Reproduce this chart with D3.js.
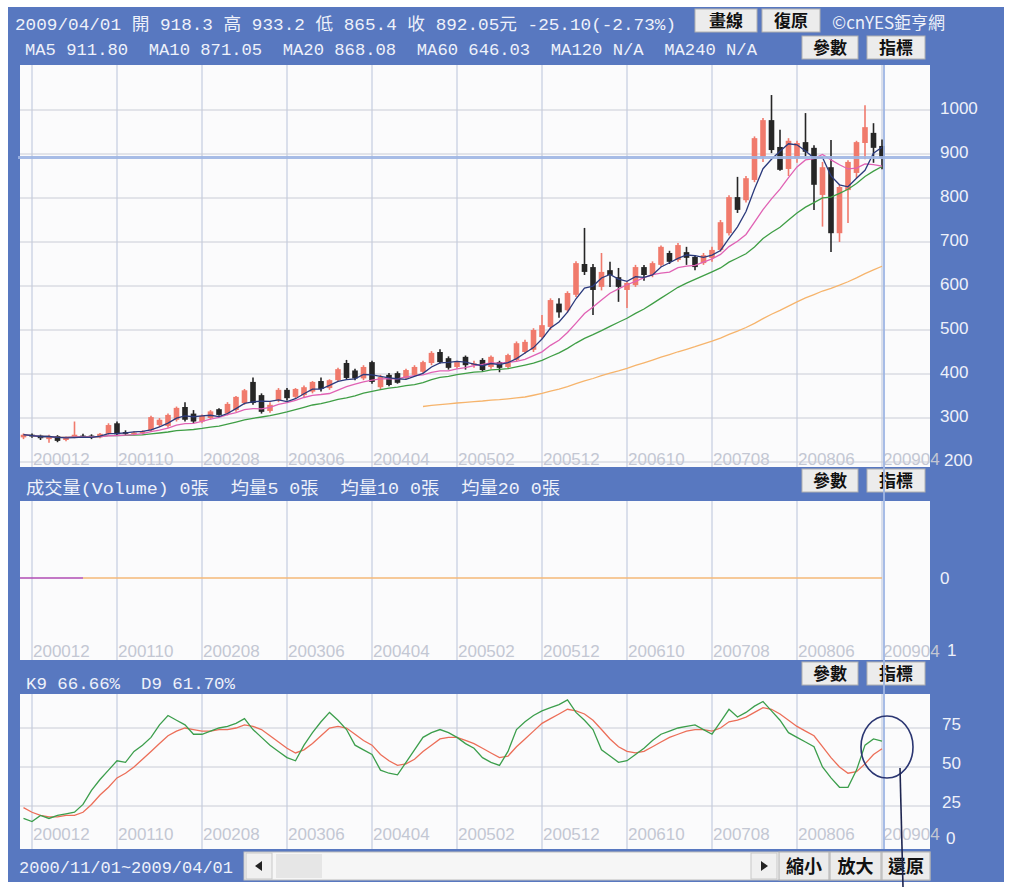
<!DOCTYPE html>
<html>
<head>
<meta charset="utf-8">
<script src="https://cdn.jsdelivr.net/npm/d3@7"></script>
<style>
  body { margin: 0; background: #fff; }
  svg { display: block; }
  text { white-space: pre; }
</style>
</head>
<body>
<script>
// monthly candles, 2000/11 .. 2009/04
const open = [256,262,260,252,259,250,256,260,260,256,
  264,288,268,264,266,272,284,282,296,325,
  310,292,300,320,310,318,334,382,352,316,
  340,364,348,352,360,384,368,386,425,408,
  390,427,370,398,402,391,398,405,425,450,
  436,416,439,420,432,416,427,416,432,450,
  455,484,507,560,545,580,650,643,598,636,
  620,591,602,643,625,648,675,659,677,666,
  652,664,682,720,802,795,841,893,977,916,
  866,890,927,914,807,870,720,818,857,925,
  948,918.3];
const high = [265,265,262,262,261,258,292,264,263,266,
  288,292,272,270,272,305,300,310,326,336,
  318,308,318,322,336,350,366,392,356,336,
  368,368,368,374,384,392,388,414,432,412,
  420,430,398,402,406,412,420,430,452,456,
  440,430,442,430,436,442,430,446,474,478,
  504,534,572,572,588,656,732,650,675,655,
  641,610,648,648,656,692,680,698,689,670,
  675,689,750,806,848,850,940,982,1034,955,
  936,930,993,920,882,932,830,886,930,1011,
  970,933.2];
const low = [252,255,250,244,245,247,254,255,252,254,
  262,260,260,261,262,270,280,278,292,292,
  288,288,296,305,306,314,330,330,310,312,
  336,340,344,348,356,360,364,382,388,386,
  386,378,365,372,378,388,395,402,420,424,
  410,412,410,414,405,412,404,412,428,446,
  450,480,500,528,540,575,625,534,590,598,
  564,550,598,612,620,644,650,655,648,636,
  648,655,678,715,766,790,836,882,902,862,
  850,880,895,773,735,677,700,743,845,888,
  880,865.4];
const close = [262,258,254,258,248,256,262,258,255,264,
  284,263,264,267,270,302,296,307,323,296,
  292,305,315,307,332,348,363,334,314,330,
  364,345,366,370,382,366,386,411,391,390,
  416,382,393,375,380,409,416,427,448,427,
  414,427,420,424,409,439,414,443,470,473,
  500,511,568,540,584,652,632,591,632,625,
  598,607,643,625,652,689,655,693,664,643,
  670,682,745,802,773,845,936,977,909,864,
  930,925,905,830,870,720,825,882,927,961,
  914,892.05];

// KD (9)
const kLine = [17,15,19,17,19,20,21,26,35,42,
  48,54,53,60,64,69,77,83,80,77,
  71,71,73,75,76,78,81,74,69,64,
  60,56,54,64,72,79,85,80,74,64,
  61,58,48,46,45,53,61,69,72,74,
  72,69,65,62,56,53,51,60,74,79,
  83,86,88,90,93,85,80,74,61,57,
  53,54,58,62,67,71,73,75,76,77,
  74,71,79,87,82,85,89,92,86,80,
  72,69,66,63,50,43,37,37,48,64,
  68,66.66];
const dLine = [24,21,19,18,18,19,19,21,26,32,
  37,43,46,50,55,60,65,70,73,75,
  74,73,73,74,74,75,77,76,74,70,
  66,62,59,61,65,70,75,76,75,71,
  67,64,58,54,51,52,55,60,64,68,
  69,69,67,65,62,59,56,57,63,68,
  73,78,81,84,87,86,84,80,74,68,
  63,60,59,60,63,66,69,71,73,74,
  74,73,75,79,80,82,85,88,87,84,
  80,76,73,70,63,56,50,46,47,52,
  58,61.70];

const monthTicks = ["200012","200110","200208","200306","200404","200502","200512","200610","200708","200806","200904"];
const priceTicks = [200,300,400,500,600,700,800,900,1000];
const kdTicks = [25,50,75];
const volTicks = [0,1];

const headLine1 = "2009/04/01 開 918.3 高 933.2 低 865.4 收 892.05元 -25.10(-2.73%)";
const headLine2 = "MA5 911.80  MA10 871.05  MA20 868.08  MA60 646.03  MA120 N/A  MA240 N/A";
const volLine = "成交量(Volume) 0張  均量5 0張  均量10 0張  均量20 0張";
const kdLine = "K9 66.66%  D9 61.70%";
const rangeLine = "2000/11/01~2009/04/01";

const BLUE = "#5878c0", LABEL = "#eef1fa", GRIDC = "#c9ccd6", VGRID = "#b9c3da";
const monoFont = "'Liberation Mono','Noto Sans CJK TC',monospace";
const cjkFont = "'Noto Sans CJK TC','Noto Sans CJK SC',sans-serif";
const numFont = "'Liberation Sans','Noto Sans',sans-serif";

const idx = s => (+s.slice(0, 4) - 2000) * 12 + (+s.slice(4)) - 11;
const ma = n => close.map((c, i) => d3.mean(close.slice(Math.max(0, i - n + 1), i + 1)));
const ma60Start = 47;

const svg = d3.select("body").append("svg").attr("width", 1014).attr("height", 887);
svg.append("rect").attr("x", 8).attr("y", 7).attr("width", 996).attr("height", 875).attr("fill", BLUE);

const L = 20, R = 930;
const x = d3.scaleLinear().domain([0, close.length - 1]).range([23.5, 882]);
const yP = d3.scaleLinear().domain([200, 1000]).range([462, 110]);
const yV = d3.scaleLinear().domain([0, 1]).range([578, 650]);
const yK = d3.scaleLinear().domain([0, 100]).range([845, 689]);

function button(x0, y0, w, h, label, size) {
  const g = svg.append("g");
  g.append("rect").attr("x", x0).attr("y", y0).attr("width", w).attr("height", h)
    .attr("fill", "#ececec").attr("stroke", "#b0b0b0").attr("stroke-width", 1);
  g.append("text").attr("x", x0 + w / 2).attr("y", y0 + h / 2 + 1).attr("dy", "0.35em")
    .attr("text-anchor", "middle").attr("font-family", cjkFont).attr("font-weight", "bold")
    .attr("font-size", size || 17).attr("fill", "#111").text(label);
}

function panel(top, bottom, labelBase) {
  svg.append("rect").attr("x", L).attr("y", top).attr("width", R - L).attr("height", bottom - top)
    .attr("fill", "#fbfbfc");
  svg.append("g").selectAll("line").data(monthTicks).join("line")
    .attr("x1", d => x(idx(d))).attr("x2", d => x(idx(d)))
    .attr("y1", top).attr("y2", bottom).attr("stroke", VGRID).attr("stroke-width", 1);
  svg.append("g").selectAll("text").data(monthTicks).join("text")
    .attr("x", d => x(idx(d)) + 1).attr("y", labelBase)
    .attr("font-family", numFont).attr("font-size", 17).attr("fill", "#c3c7d3").text(d => d);
}

// header
svg.append("text").attr("x", 15).attr("y", 30).attr("textLength", 661).attr("lengthAdjust", "spacingAndGlyphs")
  .attr("font-family", monoFont).attr("font-size", 17).attr("fill", LABEL).text(headLine1);
svg.append("text").attr("x", 25).attr("y", 55).attr("textLength", 732).attr("lengthAdjust", "spacingAndGlyphs")
  .attr("font-family", monoFont).attr("font-size", 16).attr("fill", LABEL).text(headLine2);
button(695, 9, 62, 23, "畫線");
button(762, 9, 58, 23, "復原");
svg.append("text").attr("x", 832).attr("y", 29).attr("font-family", cjkFont).attr("font-size", 17)
  .attr("fill", LABEL).text("©cnYES鉅亨網");
button(802, 36, 56, 23, "參數");
button(867, 36, 58, 23, "指標");

// ---------- price panel ----------
panel(65, 467, 465);
svg.append("g").selectAll("line").data(priceTicks).join("line")
  .attr("x1", L).attr("x2", R).attr("y1", d => yP(d)).attr("y2", d => yP(d))
  .attr("stroke", GRIDC).attr("stroke-width", 1);
svg.append("g").selectAll("text").data(priceTicks).join("text")
  .attr("x", d => d === 200 ? 944 : 940).attr("y", d => yP(d) - 2).attr("dy", "0.35em")
  .attr("font-family", numFont).attr("font-size", 17).attr("fill", LABEL).text(d => d);

const maSeries = [
  { v: ma(20), c: "#3f9e45", from: 0 },
  { v: ma(10), c: "#e062b4", from: 0 },
  { v: ma(5), c: "#2b3a7c", from: 0 },
  { v: ma(60), c: "#f6b46c", from: ma60Start }
];
const cw = 5.6;
const candles = svg.append("g").selectAll("g").data(close).join("g");
candles.append("line")
  .attr("x1", (d, i) => x(i)).attr("x2", (d, i) => x(i))
  .attr("y1", (d, i) => yP(high[i])).attr("y2", (d, i) => yP(low[i]))
  .attr("stroke", (d, i) => d >= open[i] ? "#f07a6c" : "#262626").attr("stroke-width", 1.6);
candles.append("rect")
  .attr("x", (d, i) => x(i) - cw / 2).attr("width", cw)
  .attr("y", (d, i) => yP(Math.max(d, open[i])))
  .attr("height", (d, i) => Math.max(1.5, Math.abs(yP(d) - yP(open[i]))))
  .attr("fill", (d, i) => d >= open[i] ? "#f07a6c" : "#262626");

maSeries.forEach(s => {
  svg.append("path")
    .datum(s.v.map((v, i) => [i, v]).filter(p => p[0] >= s.from))
    .attr("fill", "none").attr("stroke", s.c).attr("stroke-width", 1.3)
    .attr("d", d3.line().x(p => x(p[0])).y(p => yP(p[1])));
});

// cursor line at last close
const last = close.length - 1;
svg.append("line").attr("x1", 18).attr("x2", R).attr("y1", yP(close[last])).attr("y2", yP(close[last]))
  .attr("stroke", "#9fb6e4").attr("stroke-width", 3).attr("opacity", 0.9);

// band 2
svg.append("text").attr("x", 26).attr("y", 494).attr("textLength", 534).attr("lengthAdjust", "spacingAndGlyphs")
  .attr("font-family", monoFont).attr("font-size", 17).attr("fill", LABEL).text(volLine);
button(802, 469, 56, 23, "參數");
button(867, 469, 58, 23, "指標");

// ---------- volume panel ----------
panel(501, 660, 657);
const vol = close.map(() => 0);
svg.append("path").datum(vol.slice(0, 8).map((v, i) => [i, v]))
  .attr("fill", "none").attr("stroke", "#b04cb4").attr("stroke-width", 1.5)
  .attr("d", d3.line().x(p => p[0] === 0 ? L : x(p[0])).y(p => yV(p[1])));
svg.append("path").datum(vol.map((v, i) => [i, v]).filter(p => p[0] >= 7))
  .attr("fill", "none").attr("stroke", "#f4b878").attr("stroke-width", 1.5)
  .attr("d", d3.line().x(p => x(p[0])).y(p => yV(p[1])));
svg.append("g").selectAll("text").data(volTicks).join("text")
  .attr("x", d => d === 0 ? 940 : 947).attr("y", d => yV(d)).attr("dy", "0.35em")
  .attr("font-family", numFont).attr("font-size", 17).attr("fill", LABEL).text(d => d);

// band 3
svg.append("text").attr("x", 26).attr("y", 689).attr("textLength", 209).attr("lengthAdjust", "spacingAndGlyphs")
  .attr("font-family", monoFont).attr("font-size", 17).attr("fill", LABEL).text(kdLine);
button(802, 662, 56, 23, "參數");
button(867, 662, 58, 23, "指標");

// ---------- KD panel ----------
panel(694, 849, 840);
svg.append("g").selectAll("line").data(kdTicks).join("line")
  .attr("x1", L).attr("x2", R).attr("y1", d => yK(d)).attr("y2", d => yK(d))
  .attr("stroke", GRIDC).attr("stroke-width", 1);
svg.append("g").selectAll("text").data(kdTicks.concat([0])).join("text")
  .attr("x", d => d === 0 ? 946 : 942).attr("y", d => d === 0 ? 838 : yK(d) - 4).attr("dy", "0.35em")
  .attr("font-family", numFont).attr("font-size", 17).attr("fill", LABEL).text(d => d);
const kdPath = d3.line().x((v, i) => x(i)).y(v => yK(v));
svg.append("path").datum(dLine).attr("fill", "none").attr("stroke", "#ec6e58").attr("stroke-width", 1.3).attr("d", kdPath);
svg.append("path").datum(kLine).attr("fill", "none").attr("stroke", "#3c9e4c").attr("stroke-width", 1.3).attr("d", kdPath);

// vertical cursor over all panels
svg.append("line").attr("x1", x(last) + 2).attr("x2", x(last) + 2).attr("y1", 65).attr("y2", 849)
  .attr("stroke", "#9fb6e4").attr("stroke-width", 2).attr("opacity", 0.9);

// ---------- bottom bar ----------
svg.append("text").attr("x", 19).attr("y", 873).attr("textLength", 214).attr("lengthAdjust", "spacingAndGlyphs")
  .attr("font-family", monoFont).attr("font-size", 17).attr("fill", LABEL).text(rangeLine);
svg.append("rect").attr("x", 244).attr("y", 852).attr("width", 686).attr("height", 28)
  .attr("fill", "#f6f6f6").attr("stroke", "#bdbdbd");
svg.append("rect").attr("x", 246).attr("y", 853).attr("width", 26).attr("height", 26).attr("fill", "#f0f0f0").attr("stroke", "#c8c8c8");
svg.append("path").attr("d", "M255,866 L262,861 L262,871 Z").attr("fill", "#222");
svg.append("rect").attr("x", 276).attr("y", 854).attr("width", 46).attr("height", 24).attr("fill", "#e6e6e6");
svg.append("rect").attr("x", 751).attr("y", 853).attr("width", 26).attr("height", 26).attr("fill", "#f0f0f0").attr("stroke", "#c8c8c8");
svg.append("path").attr("d", "M761,861 L768,866 L761,871 Z").attr("fill", "#222");
button(779, 852, 50, 28, "縮小", 18);
button(830, 852, 51, 28, "放大", 18);
button(882, 852, 48, 28, "還原", 18);

// hand-drawn mark on the scan
svg.append("ellipse").attr("cx", 887).attr("cy", 747).attr("rx", 26).attr("ry", 31)
  .attr("fill", "none").attr("stroke", "#2b3672").attr("stroke-width", 1.6);
svg.append("line").attr("x1", 900).attr("y1", 768).attr("x2", 903).attr("y2", 887)
  .attr("stroke", "#1e2550").attr("stroke-width", 1.6);
</script>
</body>
</html>
